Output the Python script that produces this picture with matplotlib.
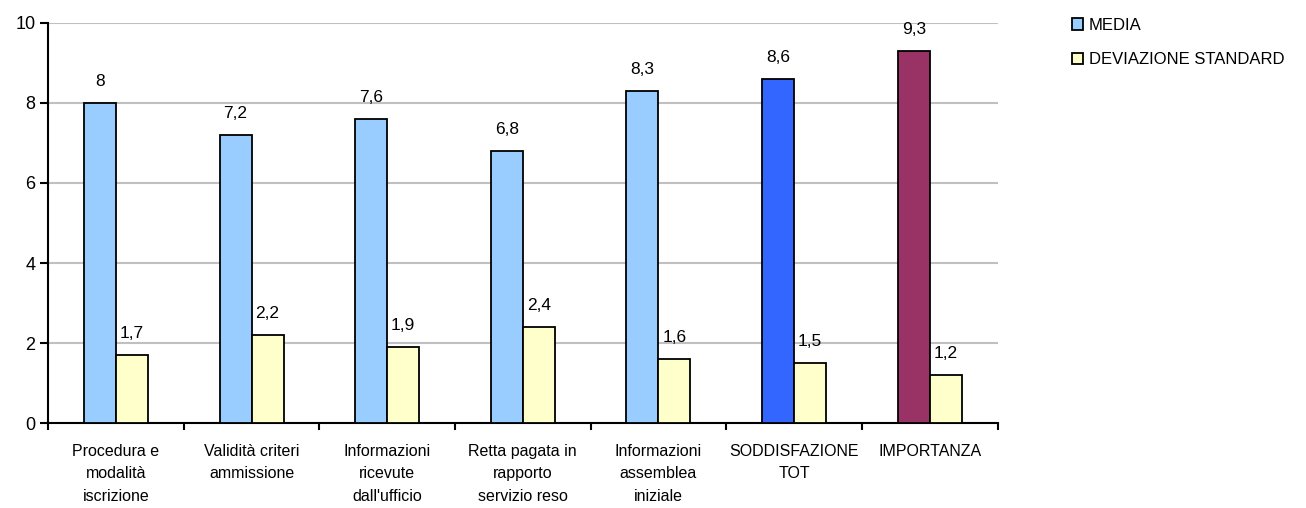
import numpy as np
import matplotlib
matplotlib.use("Agg")
import matplotlib.pyplot as plt
from matplotlib.patches import Patch

plt.rcParams['font.family'] = ['Liberation Sans', 'DejaVu Sans']

categories = ["Procedura e\nmodalità\niscrizione", "Validità criteri\nammissione",
              "Informazioni\nricevute\ndall'ufficio", "Retta pagata in\nrapporto\nservizio reso",
              "Informazioni\nassemblea\niniziale", "SODDISFAZIONE\nTOT", "IMPORTANZA"]
media = [8, 7.2, 7.6, 6.8, 8.3, 8.6, 9.3]
dev_std = [1.7, 2.2, 1.9, 2.4, 1.6, 1.5, 1.2]
media_colors = ["#99CCFF"] * 5 + ["#3366FF", "#993366"]

fig = plt.figure(figsize=(13.06, 5.08), dpi=100)
ax = fig.add_axes([0.0368, 0.167, 0.727, 0.788])

x = np.arange(len(categories))
w = 0.236
b1 = ax.bar(x - w / 2, media, w, color=media_colors, edgecolor="black", linewidth=1.3, zorder=3)
b2 = ax.bar(x + w / 2, dev_std, w, color="#FFFFCC", edgecolor="black", linewidth=1.3, zorder=3)

def fmt(v):
    return ("%g" % v).replace(".", ",")

for bars, vals in ((b1, media), (b2, dev_std)):
    for r, v in zip(bars, vals):
        ax.annotate(fmt(v), (r.get_x() + r.get_width() / 2, v), xytext=(0, 10),
                    textcoords="offset points", ha="center", va="bottom", fontsize=12.5)

ax.set_xlim(-0.5, len(categories) - 0.5)
ax.set_ylim(0, 10)
ax.set_yticks([0, 2, 4, 6, 8, 10])
ax.yaxis.grid(True, color="#C0C0C0", linewidth=1.5, zorder=0)
ax.set_axisbelow(True)
for s in ("top", "right"):
    ax.spines[s].set_visible(False)
for s in ("left", "bottom"):
    ax.spines[s].set_linewidth(1.5)

ax.set_xticks(x)
ax.set_xticklabels(categories, fontsize=11.5, linespacing=1.62, va="top")
ax.tick_params(axis="x", which="major", length=0, pad=15)
ax.set_xticks(np.arange(len(categories) + 1) - 0.5, minor=True)
ax.tick_params(axis="x", which="minor", length=5, width=1.5, direction="out")
ax.tick_params(axis="y", length=6, width=1.5, labelsize=13, pad=3)

handles = [Patch(facecolor="#99CCFF", edgecolor="black", linewidth=1.3, label="MEDIA"),
           Patch(facecolor="#FFFFCC", edgecolor="black", linewidth=1.3, label="DEVIAZIONE STANDARD")]
fig.legend(handles=handles, loc="upper left", bbox_to_anchor=(0.809, 0.994), frameon=False,
           fontsize=12, handlelength=0.7, handleheight=0.7, handletextpad=0.35, labelspacing=1.15)

fig.savefig("out.png", dpi=100)
